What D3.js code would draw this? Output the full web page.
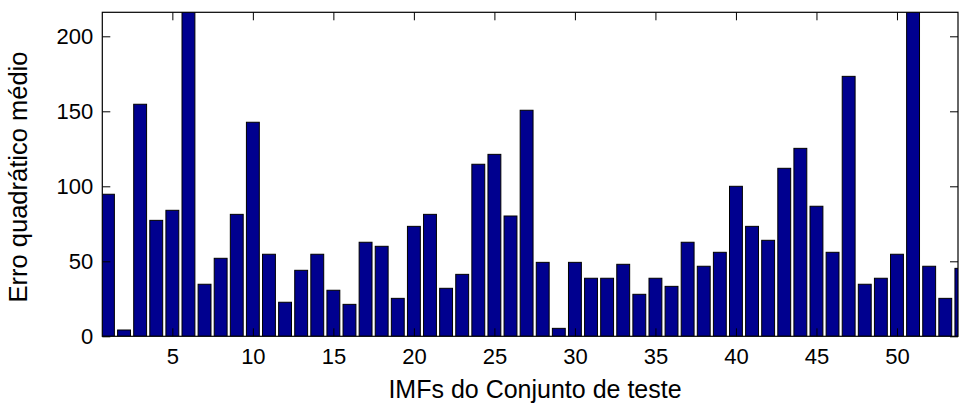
<!DOCTYPE html>
<html>
<head>
<meta charset="utf-8">
<script src="https://cdn.jsdelivr.net/npm/d3@7"></script>
<style>
  html, body { margin: 0; padding: 0; background: #fff; }
  svg { display: block; font-family: "Liberation Sans", Arial, Helvetica, sans-serif; }
</style>
</head>
<body>
<svg id="chart" width="959" height="403"></svg>
<script>
// ---- data ----
const categories = d3.range(1, 55);
const values = [94.7, 4.2, 154.7, 77.3, 84, 240, 34.7, 52, 81.3, 142.7,
  54.7, 22.7, 44, 54.7, 30.7, 21.3, 62.7, 60, 25.3, 73.3,
  81.3, 32, 41.3, 114.7, 121.3, 80.2, 150.7, 49.3, 5.3, 49.3,
  38.7, 38.7, 48, 28, 38.7, 33.3, 62.7, 46.7, 56, 100,
  73.3, 64, 112, 125.3, 86.7, 56, 173.3, 34.7, 38.7, 54.7,
  240, 46.7, 25.3, 45.3];
const xTicks = [5, 10, 15, 20, 25, 30, 35, 40, 45, 50];
const yTicks = [0, 50, 100, 150, 200];
const xLabel = "IMFs do Conjunto de teste";
const yLabel = "Erro quadrático médio";

// ---- layout ----
const L = 102.3, R = 958, T = 12.3, B = 336.3;
const svg = d3.select("#chart");
const x = d3.scaleLinear().domain([0.65, 53.79]).range([L, R]);
const y = d3.scaleLinear().domain([0, 216]).range([B, T]);
const barW = 0.8;

svg.append("defs").append("clipPath").attr("id", "clip")
  .append("rect").attr("x", L).attr("y", T).attr("width", R - L).attr("height", B - T);

svg.append("g").attr("clip-path", "url(#clip)")
  .selectAll("rect").data(categories).join("rect")
  .attr("x", d => x(d - barW / 2))
  .attr("width", d => x(d + barW / 2) - x(d - barW / 2))
  .attr("y", (d, i) => y(values[i]))
  .attr("height", (d, i) => y(0) - y(values[i]))
  .attr("fill", "#00008f")
  .attr("stroke", "#000")
  .attr("stroke-width", 1);

// axes (MATLAB style: inward ticks on all four sides)
const tickLen = 8;
const fontTick = 22;
const gBottom = svg.append("g").attr("transform", `translate(0,${B})`)
  .call(d3.axisBottom(x).tickValues(xTicks).tickSize(-tickLen).tickPadding(12).tickSizeOuter(0));
const gTop = svg.append("g").attr("transform", `translate(0,${T})`)
  .call(d3.axisTop(x).tickValues(xTicks).tickSize(-tickLen).tickFormat("").tickSizeOuter(0));
const gLeft = svg.append("g").attr("transform", `translate(${L},0)`)
  .call(d3.axisLeft(y).tickValues(yTicks).tickSize(-tickLen).tickPadding(9).tickSizeOuter(0));
const gRight = svg.append("g").attr("transform", `translate(${R},0)`)
  .call(d3.axisRight(y).tickValues(yTicks).tickSize(-tickLen).tickFormat("").tickSizeOuter(0));

[gBottom, gTop, gLeft, gRight].forEach(g => {
  g.select(".domain").remove();
  g.selectAll(".tick line").attr("stroke", "#000").attr("stroke-width", 1);
  g.selectAll("text").attr("fill", "#000").attr("font-size", fontTick)
    .attr("font-family", "'Liberation Sans', Arial, sans-serif");
});
gBottom.selectAll("text").attr("dy", "0.71em");

// axis box
svg.append("rect").attr("x", L).attr("y", T).attr("width", R - L).attr("height", B - T)
  .attr("fill", "none").attr("stroke", "#000").attr("stroke-width", 1.2);

// labels
svg.append("text").attr("x", 535).attr("y", 398)
  .attr("text-anchor", "middle").attr("font-size", 25).attr("fill", "#000")
  .text(xLabel);
svg.append("text").attr("transform", `translate(27,177) rotate(-90)`)
  .attr("text-anchor", "middle").attr("font-size", 25.5).attr("fill", "#000")
  .text(yLabel);
</script>
</body>
</html>
